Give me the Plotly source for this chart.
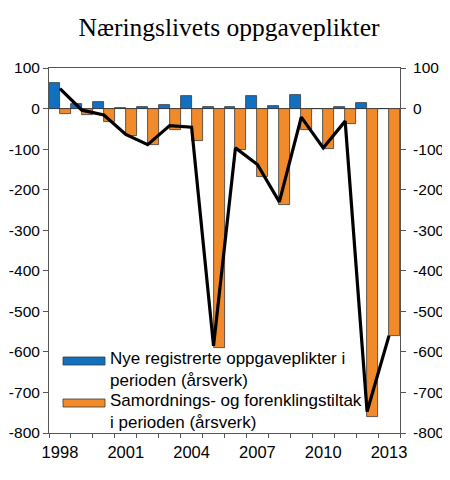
import plotly.graph_objects as go

# values (årsverk)
years = list(range(1998, 2014))
new_duties = [62, 12, 17, 2, 3, 10, 32, 4, 3, 30, 7, 33, 0, 5, 13, 0]
simplification = [-13, -17, -34, -67, -91, -53, -79, -590, -101, -168, -237, -54, -100, -38, -760, -560]
net_change = [49, -4, -16, -64, -89, -42, -46, -585, -97, -138, -230, -21, -97, -31, -747, -560]

year_labels = [1998, 2001, 2004, 2007, 2010, 2013]
y_ticks = [100, 0, -100, -200, -300, -400, -500, -600, -700, -800]
y_text = [str(v) for v in y_ticks]  # plain hyphen, not unicode minus

blue = "#1170c0"
orange = "#f08a2a"
axis_col = "#555555"
x_font = dict(family="Liberation Sans, Arial, sans-serif", size=16.5, color="black")
y_font = dict(family="Liberation Sans, Arial, sans-serif", size=15.5, color="black")

fig = go.Figure()
fig.add_trace(go.Bar(x=years, y=new_duties, marker=dict(color=blue, line=dict(color="#3a3a3a", width=0.8)),
                     showlegend=False))
fig.add_trace(go.Bar(x=years, y=simplification, marker=dict(color=orange, line=dict(color="#3a3a3a", width=0.8)),
                     showlegend=False))
fig.add_trace(go.Scatter(x=years, y=net_change, mode="lines", line=dict(color="black", width=3.2),
                         yaxis="y2", showlegend=False))

# legend drawn by hand: wide boxes like the original
# (page pixel -> plot fraction, plot area is 49..400 x 68..433 on the page)
def px_x(p):
    return (p - 49) / 351

def px_y(p):
    return (433 - p) / 365

legend_items = [
    (blue, 357, "Nye registrerte oppgaveplikter i<br>perioden (årsverk)", 369.5),
    (orange, 399, "Samordnings- og forenklingstiltak<br>i perioden (årsverk)", 411.5),
]
for col, top, txt, cy in legend_items:
    fig.add_shape(type="rect", xref="paper", yref="paper", x0=px_x(63), x1=px_x(105),
                  y0=px_y(top + 8), y1=px_y(top), fillcolor=col, line=dict(color="#3a3a3a", width=0.8))
    fig.add_annotation(xref="paper", yref="paper", x=px_x(108), y=px_y(cy), text=txt,
                       showarrow=False, xanchor="left", yanchor="middle", align="left",
                       font=dict(family="Liberation Sans, Arial, sans-serif", size=17, color="black"))

# page body has an 8px margin, so the figure is shrunk by that much
fig.update_layout(
    width=442, height=472,
    margin=dict(l=41, r=50, t=60, b=47, autoexpand=False),
    paper_bgcolor="white", plot_bgcolor="white",
    barmode="group", bargap=0, bargroupgap=0,
    title=dict(text="Næringslivets oppgaveplikter", x=0.5, xanchor="center", y=0.959, yanchor="middle",
               font=dict(family="Liberation Serif, Times New Roman, serif", size=25.5, color="black")),
    xaxis=dict(range=[1997.5, 2013.5], tickvals=year_labels, ticks="", showgrid=False, zeroline=False,
               showline=True, linecolor=axis_col, linewidth=1, mirror=True, tickfont=x_font,
               automargin=False, ticklabelstandoff=4,
               minor=dict(tickvals=[y - 0.5 for y in years] + [2013.5], ticks="outside", ticklen=4,
                          tickcolor=axis_col, showgrid=False)),
    yaxis=dict(range=[-800, 100], tickvals=y_ticks, ticktext=y_text, ticks="outside", ticklen=5,
               tickcolor=axis_col, showgrid=False, zeroline=True, zerolinecolor="#333333", zerolinewidth=1,
               showline=True, linecolor=axis_col, linewidth=1, tickfont=y_font, automargin=False),
    yaxis2=dict(range=[-800, 100], tickvals=y_ticks, ticktext=y_text, ticks="outside", ticklen=5,
                tickcolor=axis_col, overlaying="y", side="right", showgrid=False, zeroline=False,
                showline=True, linecolor=axis_col, linewidth=1, tickfont=y_font, automargin=False,
                ticklabelstandoff=4),
)

fig.write_html("out.html")
